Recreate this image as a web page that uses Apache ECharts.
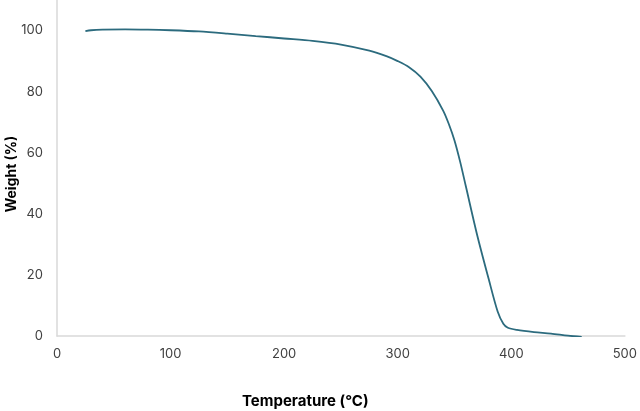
<!DOCTYPE html>
<html>
<head>
<meta charset="utf-8">
<script src="https://cdn.jsdelivr.net/npm/echarts@6/dist/echarts.min.js"></script>
<style>
  html, body { margin: 0; padding: 0; background: #fff; }
  #chart { width: 640px; height: 411px; }
</style>
</head>
<body>
<div id="chart"></div>
<script>
// TGA curve
var temperature = [25, 30, 40, 60, 80, 100, 125, 150, 175, 200, 225, 250, 275, 290, 300, 310, 320, 330, 340, 345, 350, 355, 360, 370, 380, 388, 393, 397, 405, 420, 435, 450, 462];
var weight = [99.8, 100.1, 100.3, 100.4, 100.3, 100.1, 99.7, 99.0, 98.2, 97.4, 96.6, 95.4, 93.4, 91.6, 90.0, 88.0, 84.9, 80.2, 73.8, 69.4, 64.0, 57.0, 49.0, 33.0, 18.8, 8.0, 4.0, 2.7, 2.0, 1.3, 0.8, 0.1, -0.3];
var xTicks = [0, 100, 200, 300, 400, 500];
var yTicks = [0, 20, 40, 60, 80, 100];

var points = temperature.map(function (t, i) { return [t, weight[i]]; });

var chart = echarts.init(document.getElementById('chart'));
var labelStyle = { color: '#404040', fontSize: 13, fontFamily: 'Inter, Roboto, sans-serif' };

chart.setOption({
  animation: false,
  grid: { left: 57, right: 12, top: 0, bottom: 75 },
  xAxis: {
    type: 'value',
    min: xTicks[0],
    max: xTicks[xTicks.length - 1],
    interval: 100,
    axisLine: { show: true, lineStyle: { color: '#d9d9d9', width: 1.5 } },
    axisTick: { show: false },
    splitLine: { show: false },
    axisLabel: Object.assign({ margin: 12 }, labelStyle)
  },
  yAxis: {
    type: 'value',
    min: yTicks[0],
    max: 110,
    interval: 20,
    axisLine: { show: true, lineStyle: { color: '#d9d9d9', width: 1.5 } },
    axisTick: { show: false },
    splitLine: { show: false },
    axisLabel: Object.assign({
      margin: 14,
      showMaxLabel: false,
      formatter: function (v) { return yTicks.indexOf(v) >= 0 ? v : ''; }
    }, labelStyle)
  },
  graphic: [
    {
      type: 'text',
      left: 242, top: 394,
      style: { text: 'Temperature (°C)', font: 'bold 15px Inter, Roboto, sans-serif', fill: '#000' }
    },
    {
      type: 'text',
      x: 12, y: 174,
      rotation: Math.PI / 2,
      style: { text: 'Weight (%)', font: 'bold 14px Inter, Roboto, sans-serif', fill: '#000', align: 'center', verticalAlign: 'middle' }
    }
  ],
  series: [{
    type: 'line',
    data: points,
    smooth: 0.3,
    showSymbol: false,
    lineStyle: { color: '#2c6b7e', width: 1.8 }
  }]
});
</script>
</body>
</html>
